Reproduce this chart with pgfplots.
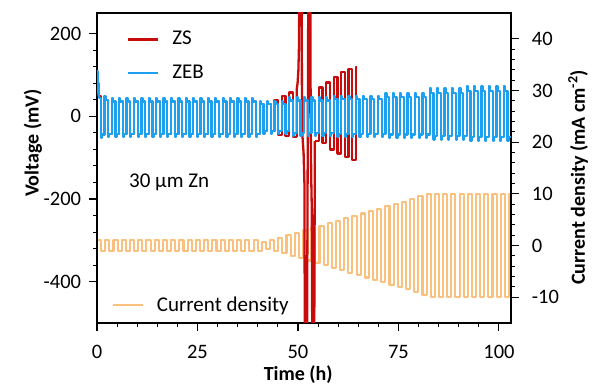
\documentclass[border=0pt]{standalone}
\usepackage{pgfplots}
\pgfplotsset{compat=1.18}
\usepackage{fontspec}
\setmainfont{Carlito}
\definecolor{zsred}{RGB}{200,12,12}
\definecolor{zebblue}{RGB}{30,160,240}
\definecolor{curorange}{RGB}{250,192,125}
\pgfplotsset{
  common/.style={
    scale only axis, width=414pt, height=310pt,
    at={(97pt,64pt)}, anchor=south west,
    xmin=0, xmax=103,
    tick align=outside,
    major tick length=8pt, minor tick length=4pt,
    axis line style={line width=1.4pt},
    every tick/.style={black, line width=1.1pt},
    tick label style={font=\fontsize{20.5}{24}\selectfont},
    /pgf/number format/assume math mode=true,
    label style={font=\fontsize{20}{24}\selectfont\bfseries},
    legend style={draw=none, fill=none, font=\fontsize{21}{25}\selectfont},
    legend cell align=left,
    legend image code/.code={\draw[##1] (0pt,0pt) -- (30pt,0pt); \path (41pt,0pt);},
  }
}
\begin{document}
\fontsize{20}{24}\selectfont
\begin{tikzpicture}
\useasboundingbox (0,0) rectangle (592pt,387pt);
% right axis: current density (drawn first, behind)
\begin{axis}[common,
  ymin=-15, ymax=45,
  axis x line=none, axis y line*=right,
  ytick={-10,0,10,20,30,40}, minor y tick num=4,
  yticklabel style={xshift=6pt},
  ylabel={Current density (mA cm\textsuperscript{-2})},
  ylabel style={at={(axis description cs:1.162,0.47)}, anchor=center},
  legend style={at={(axis description cs:0.028,0.015)}, anchor=south west},
]
\addplot[curorange, line width=2.1pt, const plot, line join=round] coordinates {
(0,1)(1.025,-1)(2.05,1)(3.075,-1)(4.1,1)(5.125,-1)(6.15,1)(7.175,-1)(8.2,1)(9.225,-1)(10.25,1)(11.275,-1)(12.3,1)(13.325,-1)(14.35,1)(15.375,-1)(16.4,1)(17.425,-1)(18.45,1)(19.475,-1)(20.5,1)(21.525,-1)(22.55,1)(23.575,-1)(24.6,1)(25.625,-1)(26.65,1)(27.675,-1)(28.7,1)(29.725,-1)(30.75,1)(31.775,-1)(32.8,1)(33.825,-1)(34.85,1)(35.875,-1)(36.9,1)(37.925,-1)(38.95,1)(39.975,-1)(41,0.6)(42.025,-0.6)(43.05,1)(44.075,-1)(45.1,1.5)(46.125,-1.5)(47.15,2)(48.175,-2)(49.2,2.4)(50.225,-2.4)(51.25,2.9)(52.275,-2.9)(53.3,3.4)(54.325,-3.4)(55.35,3.8)(56.375,-3.8)(57.4,4.3)(58.425,-4.3)(59.45,4.8)(60.475,-4.8)(61.5,5.3)(62.525,-5.3)(63.55,5.7)(64.575,-5.7)(65.6,6.2)(66.625,-6.2)(67.65,6.7)(68.675,-6.7)(69.7,7.1)(70.725,-7.1)(71.75,7.6)(72.775,-7.6)(73.8,8.1)(74.825,-8.1)(75.85,8.5)(76.875,-8.5)(77.9,9)(78.925,-9)(79.95,9.5)(80.975,-9.5)(82,10)(83.025,-10)(84.05,10)(85.075,-10)(86.1,10)(87.125,-10)(88.15,10)(89.175,-10)(90.2,10)(91.225,-10)(92.25,10)(93.275,-10)(94.3,10)(95.325,-10)(96.35,10)(97.375,-10)(98.4,10)(99.425,-10)(100.45,10)(101.475,-10)(102.5,10)(103,10)
};
\addlegendentry{Current density}
\end{axis}
% left axis: voltage
\begin{axis}[common,
  ymin=-500, ymax=250,
  ytick={-400,-200,0,200}, minor y tick num=4,
  xtick={0,25,50,75,100}, minor x tick num=4,
  xtick pos=bottom, ytick pos=left,
  xticklabel style={yshift=-7pt},
  yticklabel style={xshift=-1pt},
  xlabel={Time (h)}, ylabel={Voltage (mV)},
  xlabel style={at={(axis description cs:0.486,-0.168)}, anchor=center},
  ylabel style={at={(axis description cs:-0.155,0.58)}, anchor=center},
  legend style={at={(axis description cs:0.065,0.955)}, anchor=north west, row sep=13pt},
]
\addplot[zsred, line width=2.3pt, const plot, line join=round] coordinates {
(0,95)(0.3,50)(0.92,-44)(1.84,40)(2.76,-42)
(3.68,36)(4.60,-42)(5.52,36)(6.44,-42)(7.36,36)(8.28,-42)(9.20,36)(10.12,-42)(11.04,36)(11.96,-42)(12.88,36)(13.80,-42)(14.72,36)(15.64,-42)(16.56,36)(17.48,-42)(18.40,36)(19.32,-42)(20.24,36)(21.16,-42)(22.08,36)(23.00,-42)(23.92,36)(24.84,-42)(25.76,36)(26.68,-42)(27.60,36)(28.52,-42)(29.44,36)(30.36,-42)(31.28,36)(32.20,-42)(33.12,36)(34.04,-42)(34.96,36)(35.88,-42)(36.80,36)(37.72,-42)(38.64,36)(39.56,-42)
(40.48,30)(41.40,-36)(42.32,30)(43.24,-36)(44.16,40)(45.08,-45)(46.00,50)(46.92,-48)(47.84,58)(48.76,-50)(49.68,-50)
};
\addlegendentry{ZS}
\addplot[zsred, line width=2.3pt, line join=round, forget plot] coordinates {
(49.68,-50)(49.68,65)(49.9,80)(50.1,110)(50.25,170)(50.4,400)(50.9,400)(51.0,-20)(51.1,-45)(51.4,-90)(51.6,-160)(51.75,-700)(52.2,-700)(52.6,400)(53.1,400)(53.15,0)(53.3,-150)(53.45,-230)(53.6,-700)(54.0,-700)(54.2,-60)
};
\addplot[zsred, line width=2.3pt, const plot, line join=round, forget plot] coordinates {
(54.2,-60)(55.2,70)(56.12,-65)(57.04,82)(57.96,-80)(58.88,95)(59.8,-90)(60.72,107)(61.64,-99)(62.56,115)(63.48,-106)(64.4,120)(64.7,120)
};
\addplot[zebblue, line width=2.3pt, const plot, line join=round] coordinates {
(0,110)(0.15,80)(0.35,55)(0.55,45)(0.92,-52)(1.17,-44)
(1.84,50)(2.09,40)(2.76,-50)(3.01,-42)
(3.68,44)(3.93,36)(4.60,-50)(4.85,-42)
(5.52,44)(5.77,36)(6.44,-50)(6.69,-42)
(7.36,44)(7.61,36)(8.28,-50)(8.53,-42)
(9.20,44)(9.45,36)(10.12,-50)(10.37,-42)
(11.04,44)(11.29,36)(11.96,-50)(12.21,-42)
(12.88,44)(13.13,36)(13.80,-50)(14.05,-42)
(14.72,44)(14.97,36)(15.64,-50)(15.89,-42)
(16.56,44)(16.81,36)(17.48,-50)(17.73,-42)
(18.40,44)(18.65,36)(19.32,-50)(19.57,-42)
(20.24,44)(20.49,36)(21.16,-50)(21.41,-42)
(22.08,44)(22.33,36)(23.00,-50)(23.25,-42)
(23.92,44)(24.17,36)(24.84,-50)(25.09,-42)
(25.76,44)(26.01,36)(26.68,-50)(26.93,-42)
(27.60,44)(27.85,36)(28.52,-50)(28.77,-42)
(29.44,44)(29.69,36)(30.36,-50)(30.61,-42)
(31.28,44)(31.53,36)(32.20,-50)(32.45,-42)
(33.12,44)(33.37,36)(34.04,-50)(34.29,-42)
(34.96,44)(35.21,36)(35.88,-50)(36.13,-42)
(36.80,44)(37.05,36)(37.72,-50)(37.97,-42)
(38.64,44)(38.89,36)(39.56,-50)(39.81,-42)
(40.48,36)(40.73,30)(41.40,-42)(41.65,-36)
(42.32,36)(42.57,30)(43.24,-42)(43.49,-36)
(44.16,36)(44.41,30)(45.08,-42)(45.33,-36)
(46.00,36)(46.25,30)(46.92,-42)(47.17,-36)
(47.84,46)(48.09,38)(48.76,-48)(49.01,-40)
(49.68,46)(49.93,38)(50.60,-48)(50.85,-40)
(51.52,46)(51.77,38)(52.44,-48)(52.69,-40)
(53.36,46)(53.61,38)(54.28,-48)(54.53,-40)
(55.20,46)(55.45,38)(56.12,-48)(56.37,-40)
(57.04,46)(57.29,38)(57.96,-48)(58.21,-40)
(58.88,50)(59.13,42)(59.80,-50)(60.05,-42)
(60.72,50)(60.97,42)(61.64,-50)(61.89,-42)
(62.56,50)(62.81,42)(63.48,-50)(63.73,-42)
(64.40,50)(64.65,42)(65.32,-50)(65.57,-42)
(66.24,50)(66.49,42)(67.16,-50)(67.41,-42)
(68.08,50)(68.33,42)(69.00,-50)(69.25,-42)
(69.92,50)(70.17,42)(70.84,-50)(71.09,-42)
(71.76,56)(72.01,46)(72.68,-52)(72.93,-44)
(73.60,56)(73.85,46)(74.52,-52)(74.77,-44)
(75.44,56)(75.69,46)(76.36,-52)(76.61,-44)
(77.28,56)(77.53,46)(78.20,-52)(78.45,-44)
(79.12,56)(79.37,46)(80.04,-52)(80.29,-44)
(80.96,56)(81.21,46)(81.88,-52)(82.13,-44)
(82.80,68)(83.05,56)(83.72,-56)(83.97,-47)
(84.64,68)(84.89,56)(85.56,-56)(85.81,-47)
(86.48,68)(86.73,56)(87.40,-56)(87.65,-47)
(88.32,68)(88.57,56)(89.24,-56)(89.49,-47)
(90.16,68)(90.41,56)(91.08,-56)(91.33,-47)
(92.00,74)(92.25,62)(92.92,-60)(93.17,-50)
(93.84,74)(94.09,62)(94.76,-60)(95.01,-50)
(95.68,74)(95.93,62)(96.60,-60)(96.85,-50)
(97.52,74)(97.77,62)(98.44,-60)(98.69,-50)
(99.36,74)(99.61,62)(100.28,-60)(100.53,-50)
(101.20,74)(101.45,62)(102.12,-60)(102.37,-50)
(103,-50)
};
\addlegendentry{ZEB}
\node[anchor=west, font=\fontsize{21}{25}\selectfont] at (axis cs:6.3,-160) {30 μm Zn};
\end{axis}
\end{tikzpicture}
\end{document}
